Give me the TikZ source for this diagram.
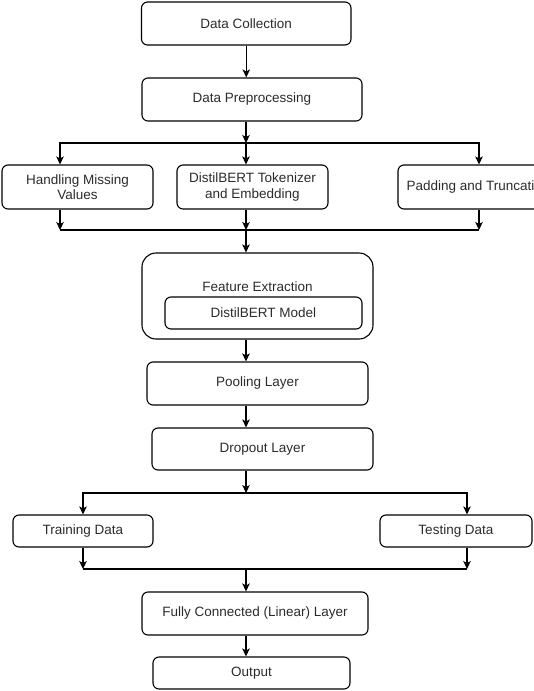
\documentclass[tikz,border=0pt]{standalone}
\usepackage{fontspec}
\setmainfont{Liberation Sans}
\usetikzlibrary{arrows.meta}
\definecolor{txt}{HTML}{2B2B2B}
\begin{document}
\begin{tikzpicture}[x=1pt,y=-1pt,
  box/.style={draw, rounded corners=6pt, line width=1.1pt, text=txt, align=center, inner sep=0pt,
    font=\fontsize{13.5}{15.5}\selectfont},
  lbl/.style={text=txt, inner sep=0pt, font=\fontsize{13.5}{15.5}\selectfont},
  conn/.style={line width=1.1pt},
  arr/.style={conn, -{Stealth[length=8pt,width=7.5pt,inset=2pt]}}]
\useasboundingbox (0,0) rectangle (534,691);
% boxes
\node[box, minimum width=209.5pt, minimum height=43pt] (dc) at (246.25,23.5) {Data Collection};
\node[box, minimum width=220pt, minimum height=43pt] (dp) at (252,99.5) {Data Preprocessing};
\node[box, minimum width=151pt, minimum height=44pt] (hm) at (77.5,187) {Handling Missing\\Values};
\node[box, minimum width=151pt, minimum height=44pt] (tk) at (252.5,187) {DistilBERT Tokenizer\\and Embedding};
\node[box, minimum width=160pt, minimum height=44pt] (pt) at (478,187) {Padding and Truncation};
\node[box, rounded corners=14pt, minimum width=231pt, minimum height=86pt] (fe) at (257.5,296) {};
\node[lbl] (fet) at (257.5,287) {Feature Extraction};
\node[box, minimum width=197pt, minimum height=32pt] (dm) at (263.5,313) {DistilBERT Model};
\node[box, minimum width=221pt, minimum height=43pt] (pl) at (257.5,383.5) {Pooling Layer};
\node[box, minimum width=221pt, minimum height=42pt] (do) at (262.5,449) {Dropout Layer};
\node[box, minimum width=140pt, minimum height=32pt] (tr) at (83,531) {Training Data};
\node[box, minimum width=152pt, minimum height=32pt] (te) at (456,531) {Testing Data};
\node[box, minimum width=226pt, minimum height=43pt] (fc) at (255,613.5) {Fully Connected (Linear) Layer};
\node[box, minimum width=197pt, minimum height=32pt] (out) at (251.5,673) {Output};
% junctions and connector columns
\coordinate (s1) at (246,143);
\coordinate (m1) at (246,230);
\coordinate (s2) at (246,493);
\coordinate (m2) at (246,569);
\coordinate (hmx) at (60,0);
\coordinate (ptx) at (479,0);
\coordinate (trx) at (83,0);
\coordinate (tex) at (467,0);
% connectors
\draw[arr] (dc.south) -- (dc.south |- dp.north);
\draw[arr] (dp.south -| s1) -- (s1);
\draw[arr] (s1) -| (hm.north -| hmx);
\draw[arr] (s1) -- (tk.north -| s1);
\draw[arr] (s1) -| (pt.north -| ptx);
\draw[arr] (hm.south -| hmx) -- (m1 -| hmx);
\draw[arr] (tk.south -| m1) -- (m1);
\draw[arr] (pt.south -| ptx) -- (m1 -| ptx);
\draw[conn] (m1 -| hmx) -- (m1 -| ptx);
\draw[arr] (m1) -- (fe.north -| m1);
\draw[arr] (fe.south -| m1) -- (pl.north -| m1);
\draw[arr] (pl.south -| m1) -- (do.north -| m1);
\draw[arr] (do.south -| s2) -- (s2);
\draw[arr] (s2) -| (tr.north -| trx);
\draw[arr] (s2) -| (te.north -| tex);
\draw[arr] (tr.south -| trx) -- (m2 -| trx);
\draw[arr] (te.south -| tex) -- (m2 -| tex);
\draw[conn] (m2 -| trx) -- (m2 -| tex);
\draw[arr] (m2) -- (fc.north -| m2);
\draw[arr] (fc.south -| m2) -- (out.north -| m2);
\end{tikzpicture}
\end{document}
